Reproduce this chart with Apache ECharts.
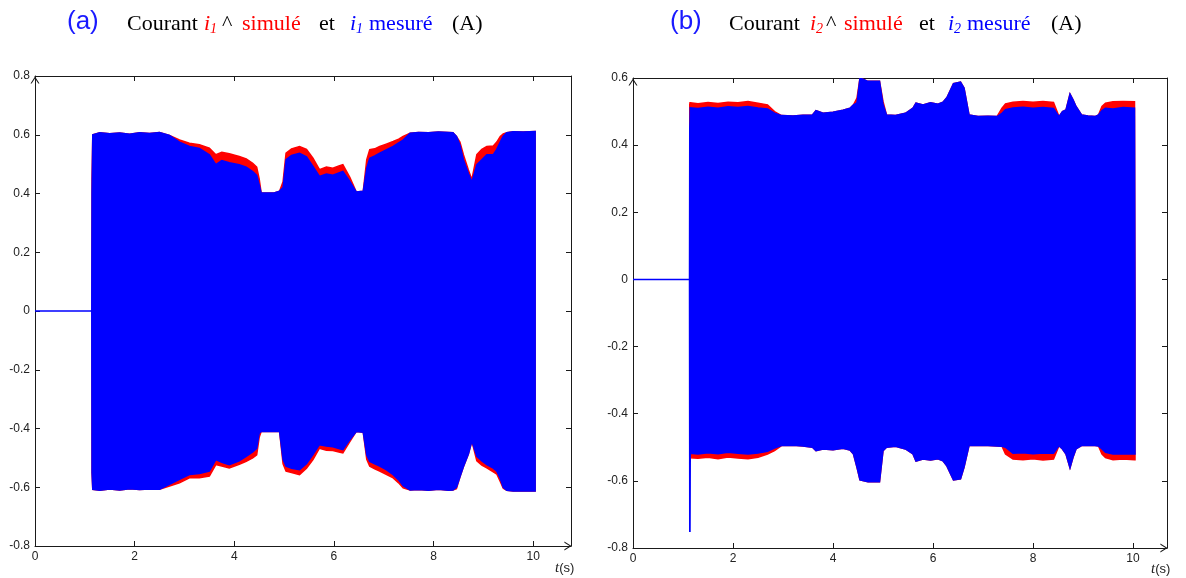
<!DOCTYPE html>
<html><head><meta charset="utf-8">
<script src="https://cdn.jsdelivr.net/npm/echarts@6/dist/echarts.min.js"></script>
<style>html,body{margin:0;padding:0;background:#fff}#c{width:1186px;height:578px}</style>
</head><body><div id="c"></div>
<script>
// ---------- data ----------
const xTickValues = [0, 2, 4, 6, 8, 10];

// panel (a): i1 envelope (A) vs time (s)
const tA = [0, 1.14, 1.145, 1.16, 1.3, 1.5, 1.7, 1.9, 2.1, 2.3, 2.5, 2.7, 2.9, 3.1, 3.3, 3.5, 3.63, 3.75, 3.9, 4.1, 4.24, 4.37, 4.45, 4.5, 4.54, 4.6, 4.8, 4.91, 4.98, 5.04, 5.15, 5.31, 5.45, 5.58, 5.71, 5.85, 5.98, 6.1, 6.18, 6.32, 6.45, 6.59, 6.66, 6.72, 6.82, 6.92, 7.05, 7.19, 7.3, 7.39, 7.53, 7.7, 7.9, 8.1, 8.3, 8.39, 8.46, 8.53, 8.6, 8.7, 8.77, 8.87, 8.97, 9.07, 9.2, 9.27, 9.34, 9.4, 9.47, 9.6, 9.8, 10.04];
const measUpA = [0, 0, 0.40, 0.600, 0.607, 0.603, 0.606, 0.602, 0.607, 0.604, 0.608, 0.598, 0.575, 0.56, 0.553, 0.532, 0.498, 0.512, 0.505, 0.498, 0.49, 0.475, 0.462, 0.43, 0.402, 0.402, 0.402, 0.408, 0.42, 0.515, 0.53, 0.537, 0.525, 0.492, 0.458, 0.466, 0.462, 0.47, 0.475, 0.441, 0.405, 0.408, 0.486, 0.52, 0.528, 0.537, 0.548, 0.56, 0.572, 0.582, 0.605, 0.608, 0.607, 0.609, 0.608, 0.607, 0.594, 0.565, 0.515, 0.468, 0.439, 0.498, 0.515, 0.532, 0.532, 0.55, 0.575, 0.595, 0.607, 0.61, 0.609, 0.611];
const simUpA  = [0, 0, 0.45, 0.600, 0.607, 0.603, 0.606, 0.602, 0.607, 0.604, 0.608, 0.598, 0.582, 0.571, 0.566, 0.554, 0.532, 0.54, 0.535, 0.526, 0.518, 0.503, 0.49, 0.45, 0.402, 0.402, 0.402, 0.408, 0.44, 0.537, 0.552, 0.56, 0.55, 0.52, 0.481, 0.49, 0.486, 0.494, 0.498, 0.455, 0.405, 0.408, 0.515, 0.549, 0.552, 0.56, 0.568, 0.577, 0.585, 0.594, 0.605, 0.608, 0.607, 0.609, 0.608, 0.607, 0.594, 0.575, 0.532, 0.48, 0.447, 0.532, 0.55, 0.56, 0.562, 0.575, 0.594, 0.603, 0.607, 0.61, 0.609, 0.611];
const measLoA = [0, 0, -0.55, -0.607, -0.61, -0.606, -0.609, -0.605, -0.608, -0.606, -0.607, -0.59, -0.573, -0.557, -0.553, -0.545, -0.506, -0.515, -0.523, -0.51, -0.495, -0.48, -0.468, -0.416, -0.41, -0.41, -0.41, -0.41, -0.506, -0.528, -0.535, -0.54, -0.52, -0.489, -0.455, -0.46, -0.462, -0.468, -0.472, -0.438, -0.41, -0.413, -0.49, -0.512, -0.52, -0.528, -0.54, -0.557, -0.575, -0.595, -0.609, -0.608, -0.61, -0.607, -0.61, -0.609, -0.6, -0.565, -0.53, -0.487, -0.443, -0.495, -0.51, -0.523, -0.535, -0.545, -0.57, -0.6, -0.61, -0.613, -0.612, -0.613];
const simLoA  = [0, 0, -0.55, -0.607, -0.61, -0.606, -0.609, -0.605, -0.608, -0.606, -0.607, -0.596, -0.585, -0.568, -0.568, -0.562, -0.523, -0.528, -0.534, -0.522, -0.512, -0.5, -0.49, -0.43, -0.41, -0.41, -0.41, -0.41, -0.52, -0.545, -0.55, -0.557, -0.535, -0.506, -0.467, -0.474, -0.475, -0.48, -0.483, -0.445, -0.41, -0.413, -0.505, -0.528, -0.537, -0.545, -0.556, -0.568, -0.585, -0.602, -0.609, -0.608, -0.61, -0.607, -0.61, -0.609, -0.605, -0.565, -0.53, -0.487, -0.443, -0.51, -0.525, -0.534, -0.548, -0.555, -0.58, -0.603, -0.61, -0.613, -0.612, -0.613];

// panel (b): i2 envelope (A) vs time (s)
const tB = [0, 1.13, 1.135, 1.14, 1.145, 1.3, 1.5, 1.7, 1.9, 2.1, 2.3, 2.5, 2.69, 2.83, 2.97, 3.2, 3.4, 3.59, 3.66, 3.8, 4.0, 4.2, 4.34, 4.41, 4.48, 4.54, 4.7, 4.93, 5.0, 5.07, 5.25, 5.45, 5.6, 5.66, 5.8, 5.95, 6.1, 6.2, 6.28, 6.41, 6.55, 6.62, 6.72, 6.9, 7.1, 7.28, 7.38, 7.45, 7.6, 7.8, 8.0, 8.2, 8.41, 8.52, 8.59, 8.66, 8.74, 8.8, 8.86, 8.97, 9.1, 9.24, 9.31, 9.38, 9.45, 9.6, 9.8, 10.03, 10.04];
const measUpB = [0, 0, 0.45, 0.47, 0.511, 0.509, 0.513, 0.51, 0.514, 0.512, 0.515, 0.511, 0.508, 0.495, 0.488, 0.487, 0.489, 0.49, 0.503, 0.495, 0.498, 0.504, 0.51, 0.52, 0.526, 0.6, 0.59, 0.59, 0.521, 0.49, 0.488, 0.495, 0.51, 0.525, 0.52, 0.526, 0.522, 0.528, 0.542, 0.583, 0.588, 0.57, 0.49, 0.485, 0.486, 0.485, 0.495, 0.506, 0.511, 0.513, 0.51, 0.512, 0.509, 0.485, 0.5, 0.505, 0.552, 0.535, 0.515, 0.49, 0.487, 0.485, 0.49, 0.503, 0.51, 0.508, 0.512, 0.51, -0.1];
const simUpB  = [0, 0, 0.52, 0.526, 0.526, 0.523, 0.527, 0.524, 0.528, 0.526, 0.53, 0.525, 0.52, 0.50, 0.488, 0.487, 0.489, 0.49, 0.503, 0.495, 0.498, 0.504, 0.51, 0.52, 0.54, 0.6, 0.59, 0.59, 0.53, 0.49, 0.488, 0.495, 0.51, 0.525, 0.52, 0.526, 0.522, 0.528, 0.542, 0.583, 0.588, 0.57, 0.49, 0.485, 0.486, 0.485, 0.51, 0.523, 0.528, 0.53, 0.528, 0.53, 0.527, 0.485, 0.5, 0.505, 0.552, 0.535, 0.515, 0.49, 0.487, 0.485, 0.49, 0.515, 0.525, 0.529, 0.53, 0.529, -0.1];
const measLoB = [0, 0, -0.75, -0.75, -0.518, -0.52, -0.516, -0.519, -0.515, -0.518, -0.52, -0.517, -0.512, -0.502, -0.495, -0.494, -0.496, -0.5, -0.51, -0.505, -0.507, -0.503, -0.508, -0.52, -0.56, -0.597, -0.603, -0.603, -0.51, -0.5, -0.497, -0.505, -0.52, -0.541, -0.535, -0.538, -0.534, -0.54, -0.556, -0.597, -0.594, -0.56, -0.495, -0.494, -0.495, -0.496, -0.497, -0.5, -0.518, -0.516, -0.519, -0.517, -0.518, -0.495, -0.505, -0.52, -0.561, -0.53, -0.505, -0.495, -0.494, -0.495, -0.496, -0.505, -0.515, -0.52, -0.519, -0.52, -0.52];
const simLoB  = [0, 0, -0.53, -0.53, -0.531, -0.533, -0.53, -0.534, -0.529, -0.532, -0.534, -0.53, -0.52, -0.51, -0.495, -0.494, -0.496, -0.5, -0.51, -0.505, -0.507, -0.503, -0.508, -0.52, -0.56, -0.597, -0.603, -0.603, -0.51, -0.5, -0.497, -0.505, -0.52, -0.541, -0.535, -0.538, -0.534, -0.54, -0.556, -0.597, -0.594, -0.56, -0.495, -0.494, -0.495, -0.496, -0.497, -0.52, -0.535, -0.537, -0.534, -0.538, -0.535, -0.495, -0.505, -0.52, -0.561, -0.53, -0.505, -0.495, -0.494, -0.495, -0.496, -0.52, -0.531, -0.537, -0.535, -0.537, -0.537];

// ---------- chart ----------
const RED = '#ff0000', BLUE = '#0000ff', AX = '#1a1a1a';
const ARROW = 'path://M5,0 L10,8 L8.7,8 L5,2.2 L1.3,8 L0,8 Z';

// one filled band (envelope of the dense oscillation) drawn as a polygon through the axes' scales
function band(t, lo, up, color, gi, skipFlatLead) {
  let start = 0;
  if (skipFlatLead) { while (start < t.length && up[start] === lo[start]) start++; }
  const data = [];
  for (let i = start; i < t.length; i++) data.push([t[i], lo[i], up[i]]);
  return {
    type: 'custom', coordinateSystem: 'cartesian2d', xAxisIndex: gi * 2, yAxisIndex: gi * 2,
    silent: true, animation: false, clip: true,
    data: data,
    encode: { x: 0, y: [1, 2] },
    renderItem: function (params, api) {
      if (params.dataIndexInside !== 0) return null;
      const n = params.dataInsideLength;
      const pts = [];
      for (let i = 0; i < n; i++) pts.push(api.coord([api.value(0, i), api.value(2, i)]));
      for (let i = n - 1; i >= 0; i--) pts.push(api.coord([api.value(0, i), api.value(1, i)]));
      return { type: 'polygon', shape: { points: pts },
        style: { fill: color, stroke: color, lineWidth: 1.5, lineJoin: 'miter' } };
    }
  };
}

function axesFor(gi, xmax, ymin, ymax) {
  const lab = { color: '#222', fontSize: 12, fontFamily: 'Arial, "Liberation Sans", sans-serif' };
  const line = { show: true, onZero: false, lineStyle: { color: AX, width: 1 } };
  const tick = { show: true, inside: true, length: 5, lineStyle: { color: AX } };
  const xs = [
    { gridIndex: gi, type: 'value', min: 0, max: xmax, position: 'bottom',
      axisLine: Object.assign({}, line, { symbol: ['none', ARROW], symbolSize: [9, 8], symbolOffset: [0, -3] }),
      axisTick: Object.assign({ customValues: xTickValues }, tick),
      axisLabel: Object.assign({ customValues: xTickValues, margin: 5 }, lab),
      splitLine: { show: false } },
    { gridIndex: gi, type: 'value', min: 0, max: xmax, position: 'top',
      axisLine: line,
      axisTick: Object.assign({ customValues: xTickValues }, tick),
      axisLabel: { show: false }, splitLine: { show: false } }
  ];
  const ys = [
    { gridIndex: gi, type: 'value', min: ymin, max: ymax, interval: 0.2, position: 'left',
      axisLine: Object.assign({}, line, { symbol: ['none', ARROW], symbolSize: [9, 8], symbolOffset: [0, -4] }),
      axisTick: tick,
      axisLabel: Object.assign({ margin: 5 }, lab), splitLine: { show: false } },
    { gridIndex: gi, type: 'value', min: ymin, max: ymax, interval: 0.2, position: 'right',
      axisLine: line, axisTick: tick,
      axisLabel: { show: false }, splitLine: { show: false } }
  ];
  return { xs, ys };
}

const a = axesFor(0, 10.76, -0.8, 0.8);
const b = axesFor(1, 10.68, -0.8, 0.6);

const SERIF = '"Liberation Serif", "Times New Roman", serif';
const SANS = 'Arial, "Liberation Sans", sans-serif';
const TY = 24; // vertical centre of title line

function word(x, text, color, opts) {
  opts = opts || {};
  return { type: 'text', x: x, y: TY + (opts.dy || 0), silent: true,
    style: { text: text, fill: color, fontFamily: opts.family || SERIF, fontSize: opts.size || 22,
      fontStyle: opts.italic ? 'italic' : 'normal', verticalAlign: 'middle', align: 'left' } };
}
function titleWords(pos, n) {
  return [
    word(pos[0], n === '1' ? '(a)' : '(b)', '#1a1aff', { family: SANS, size: 26, dy: -2 }),
    word(pos[1], 'Courant', '#000'),
    word(pos[2], 'i', RED, { italic: true }),
    word(pos[2] + 6, n, RED, { italic: true, size: 14, dy: 5 }),
    word(pos[3], '^', '#000'),
    word(pos[4], 'simulé', RED),
    word(pos[5], 'et', '#000'),
    word(pos[6], 'i', BLUE, { italic: true }),
    word(pos[6] + 6, n, BLUE, { italic: true, size: 14, dy: 5 }),
    word(pos[7], 'mesuré', BLUE),
    word(pos[8], '(A)', '#000')
  ];
}
function tsLabel(x, y) {
  return { type: 'text', left: x, top: y, silent: true,
    style: { text: '{t|t}{s|(s)}', rich: {
      t: { fontFamily: SERIF, fontStyle: 'italic', fontSize: 15, fill: '#222' },
      s: { fontFamily: SANS, fontSize: 13, fill: '#222' } } } };
}

const chart = echarts.init(document.getElementById('c'), null, { renderer: 'canvas' });
chart.setOption({
  animation: false,
  backgroundColor: '#fff',
  grid: [
    { left: 35, top: 76, width: 536, height: 470, containLabel: false },
    { left: 633, top: 78, width: 534, height: 470, containLabel: false }
  ],
  xAxis: a.xs.concat(b.xs),
  yAxis: a.ys.concat(b.ys),
  series: [
    band(tA, simLoA, simUpA, RED, 0, true),
    band(tA, measLoA, measUpA, BLUE, 0, false),
    band(tB, simLoB, simUpB, RED, 1, true),
    band(tB, measLoB, measUpB, BLUE, 1, false)
  ],
  graphic: [].concat(
    titleWords([67, 127, 204, 222, 242, 319, 350, 369, 452], '1'),
    titleWords([670, 729, 810, 826, 844, 919, 948, 967, 1051], '2'),
    [tsLabel(555, 561), tsLabel(1151, 562)]
  )
});
</script>
</body></html>
